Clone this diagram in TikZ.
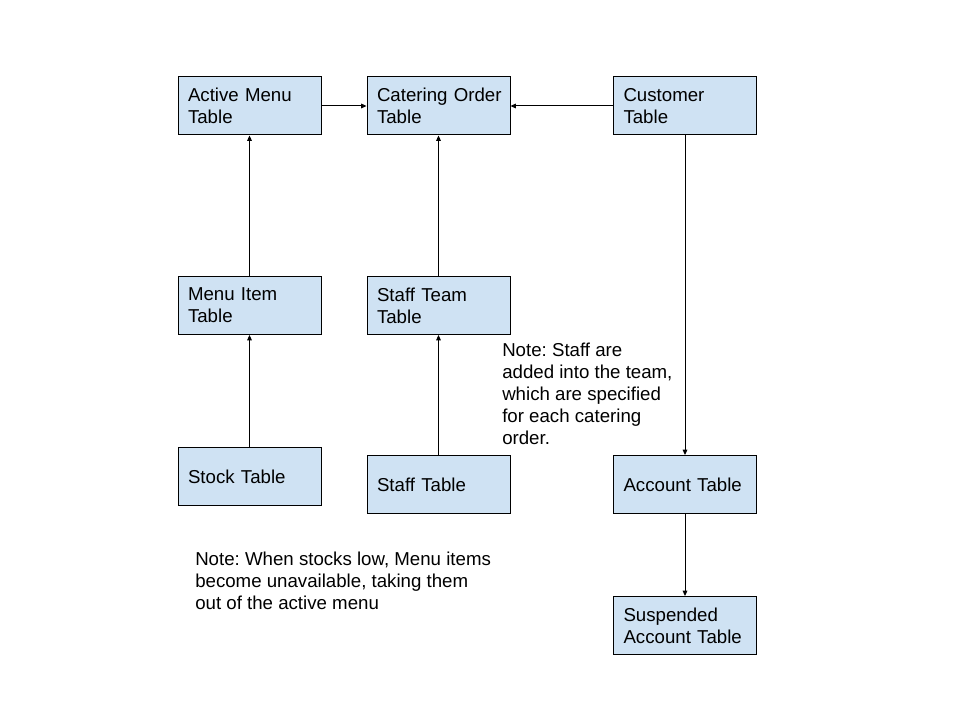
\documentclass[tikz,border=0pt]{standalone}
\usepackage{fontspec}
\setmainfont{Liberation Sans}
\usetikzlibrary{arrows.meta}
\definecolor{boxfill}{HTML}{CFE2F3}
\frenchspacing
\tikzset{
  tbl/.style={draw=black, line width=0.75pt, fill=boxfill, minimum width=107.25pt,
    minimum height=43.5pt, text width=92.25pt, inner xsep=7.5pt, align=left,
    font=\fontsize{14}{16.5}\selectfont\frenchspacing},
  conn/.style={draw=black, line width=0.75pt, -{Triangle[length=4pt,width=3.5pt]}},
  note/.style={inner sep=0pt, anchor=north west, align=left, font=\fontsize{14}{16.5}\selectfont\frenchspacing}
}
\begin{document}
\begin{tikzpicture}[x=0.75pt,y=-0.75pt]
\useasboundingbox (0,0) rectangle (960,720);
\node[tbl] (active) at (249.5,106) {Active Menu\\Table};
\node[tbl] (cater) at (438.5,106) {\mbox{Catering Order}\\Table};
\node[tbl] (cust) at (685,106) {Customer\\Table};
\node[tbl] (menu) at (249.5,305.5) {Menu Item\\Table};
\node[tbl] (team) at (438.5,305.5) {Staff Team\\Table};
\node[tbl] (stock) at (249.5,476.5) {Stock Table};
\node[tbl] (staff) at (438.5,484.5) {Staff Table};
\node[tbl] (acct) at (685,484.5) {Account Table};
\node[tbl] (susp) at (685,625.5) {Suspended\\Account Table};
\node[note] (note1) at (502,343) {Note: Staff are\\added into the team,\\which are specified\\for each catering\\order.};
\node[note] (note2) at (195,552) {Note: When stocks low, Menu items\\become unavailable, taking them\\out of the active menu};
\draw[conn] (active) -- (cater);
\draw[conn] (cust) -- (cater);
\draw[conn] (menu) -- (active);
\draw[conn] (stock) -- (menu);
\draw[conn] (team) -- (cater);
\draw[conn] (staff) -- (team);
\draw[conn] (cust) -- (acct);
\draw[conn] (acct) -- (susp);
\end{tikzpicture}
\end{document}
